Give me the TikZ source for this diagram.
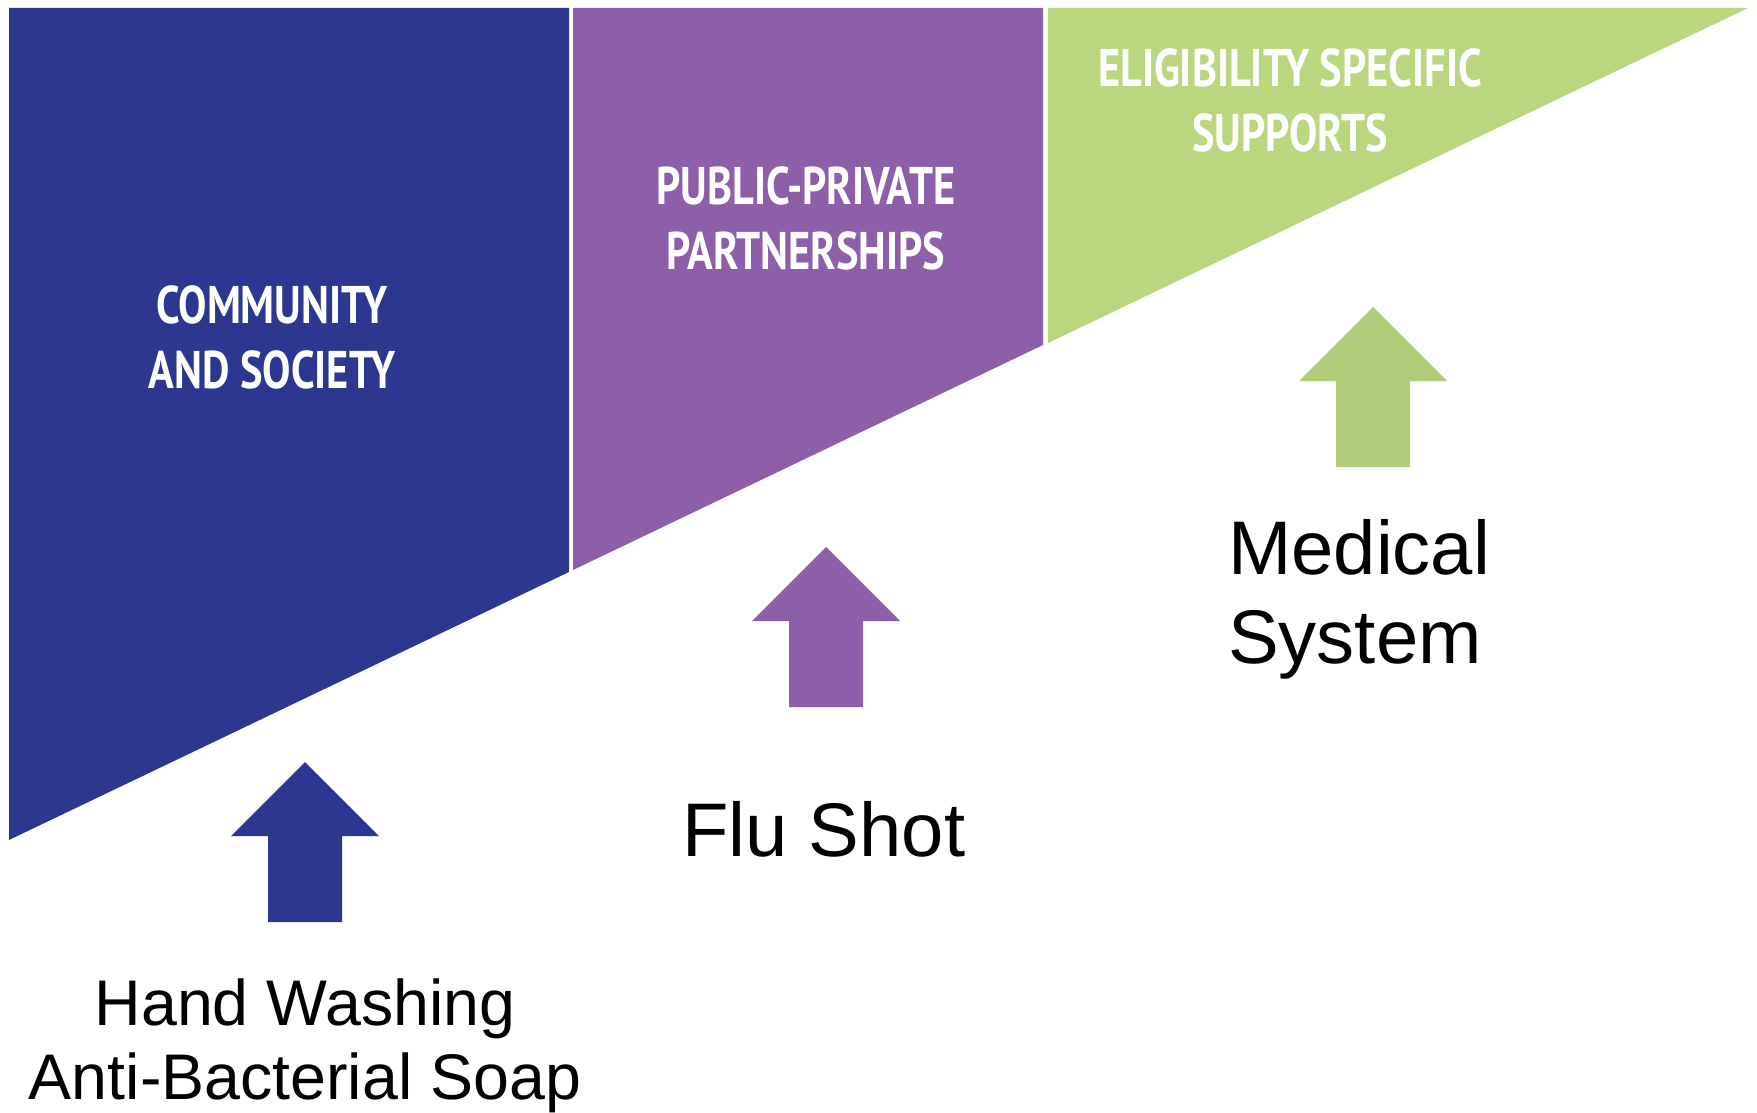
\documentclass[tikz,border=0pt]{standalone}
\usepackage{fontspec}
\setmainfont{Liberation Sans}
\newfontfamily\headfont[FakeStretch=0.8]{PT Sans}
\definecolor{cblue}{RGB}{46,55,144}
\definecolor{cpurple}{RGB}{140,95,168}
\definecolor{cgreen}{RGB}{186,215,128}
\tikzset{
  headtxt/.style={text=white, inner sep=0pt, align=center,
    font=\headfont\bfseries\fontsize{53}{65}\selectfont},
  bigtxt/.style={text=black, inner sep=0pt,
    font=\fontsize{76}{89}\selectfont},
  midtxt/.style={text=black, inner sep=0pt, align=center,
    font=\fontsize{64.5}{74}\selectfont},
  uparr/.pic={\fill[pic actions] (0,0) -- (74,74) -- (37,74) -- (37,160)
     -- (-37,160) -- (-37,74) -- (-74,74) -- cycle;}
}
\begin{document}
\begin{tikzpicture}[x=1pt,y=-1pt]
\useasboundingbox[fill=white] (0,0) rectangle (1757,1113);
% bands
\fill[cblue] (9,8) -- (569,8) -- (569,572) -- (9,840) -- cycle;
\fill[cpurple] (573,8) -- (1043,8) -- (1043,345) -- (573,570) -- cycle;
\fill[cgreen] (1048,8) -- (1748,8) -- (1048,343) -- cycle;
% headings (anchor = baseline of last line)
\node[headtxt, anchor=base] (comm) at (272,388) {COMMUNITY\\AND SOCIETY};
\node[headtxt, anchor=base] (ppp) at (806,269) {PUBLIC-PRIVATE\\PARTNERSHIPS};
\node[headtxt, anchor=base] (elig) at (1290,152) {ELIGIBILITY SPECIFIC\\SUPPORTS};
% arrows
\pic[fill=cblue] at (305,762) {uparr};
\pic[fill=cpurple] at (826,547) {uparr};
\pic[fill=cgreen!95!black] at (1373,307) {uparr};
% labels
\node[midtxt, anchor=base] (hand) at (305,1099) {Hand Washing\\Anti-Bacterial Soap};
\node[bigtxt, anchor=base west] (flu) at (682,856) {Flu Shot};
\node[bigtxt, align=left, anchor=base west] (med) at (1228,663) {Medical\\System};
\end{tikzpicture}
\end{document}
